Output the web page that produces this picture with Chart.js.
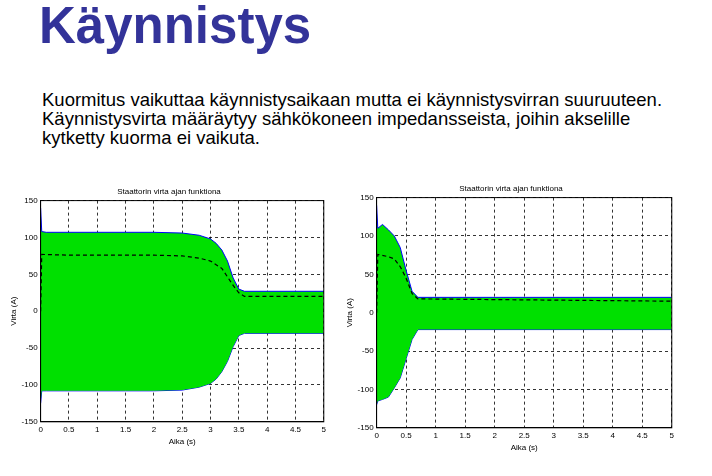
<!DOCTYPE html>
<html>
<head>
<meta charset="utf-8">
<script src="https://cdn.jsdelivr.net/npm/chart.js@4"></script>
<style>
  body { margin: 0; background: #fff; font-family: "Liberation Sans", Arial, sans-serif; }
  #page { position: relative; width: 712px; height: 476px; overflow: hidden; }
  h1 { position: absolute; left: 39px; top: -4px; margin: 0; font-size: 51px; color: #333399; font-weight: bold; }
  p { position: absolute; left: 42px; top: 90px; margin: 0; font-size: 18.5px; line-height: 19px; color: #000; width: 680px; }
  .box { position: absolute; }
</style>
</head>
<body>
<div id="page">
  <h1>Käynnistys</h1>
  <p>Kuormitus vaikuttaa käynnistysaikaan mutta ei käynnistysvirran suuruuteen.<br>
  Käynnistysvirta määräytyy sähkökoneen impedansseista, joihin akselille<br>
  kytketty kuorma ei vaikuta.</p>
  <div class="box" style="left:9px;top:187px;width:320px;height:260px"><canvas id="c1"></canvas></div>
  <div class="box" style="left:345px;top:184px;width:332px;height:269px"><canvas id="c2"></canvas></div>
</div>
<script>
// vasen kuva: kuormitettu käynnistys
const t1 = [0, 0.02, 0.1, 0.5, 1, 1.5, 2, 2.5, 2.8, 3.0, 3.1, 3.2, 3.3, 3.4, 3.5, 3.6, 4, 5];
const upper1 = [140, 108, 107, 107, 107, 107, 107, 106, 103, 98, 92, 83, 68, 45, 30, 27, 27, 27];
const lower1 = [-125, -108, -108, -108, -108, -108, -108, -107, -103, -98, -92, -82, -68, -48, -33, -30, -30, -30];
const tRms1 = [0, 0.02, 0.5, 1, 1.5, 2, 2.5, 2.8, 3.0, 3.2, 3.4, 3.5, 3.6, 5];
const rms1 = [0, 77, 76, 76, 76, 76, 75, 72, 68, 58, 35, 25, 20, 20];

// oikea kuva: kuormittamaton käynnistys
const t2 = [0, 0.02, 0.1, 0.2, 0.3, 0.4, 0.5, 0.6, 0.7, 5];
const upper2 = [140, 110, 115, 108, 100, 85, 55, 28, 20, 20];
const lower2 = [-120, -115, -113, -110, -98, -85, -60, -35, -22, -22];
const tRms2 = [0, 0.02, 0.2, 0.3, 0.4, 0.5, 0.6, 0.7, 5];
const rms2 = [0, 76, 73, 70, 60, 45, 25, 18, 15];

const xTicks = ['0', '0.5', '1', '1.5', '2', '2.5', '3', '3.5', '4', '4.5', '5'];

const pts = (xs, ys) => xs.map((x, i) => ({x: x, y: ys[i]}));

const makeChart = (id, t, up, lo, tr, r) => {
  const ctx = document.getElementById(id).getContext('2d');
  const axisFont = {family: 'Liberation Sans', size: 8, weight: 'normal'};
  const grid = {color: '#000', lineWidth: 0.8, drawTicks: false};
  new Chart(ctx, {
    type: 'line',
    data: {
      datasets: [
        {data: pts(tr, r), borderColor: '#000', borderWidth: 1.2, borderDash: [4, 3], pointRadius: 0, fill: false, order: 0},
        {data: pts(t, up), borderColor: '#0000ff', borderWidth: 1, pointRadius: 0, fill: '+1', backgroundColor: '#00e000', order: 1},
        {data: pts(t, lo), borderColor: '#0000ff', borderWidth: 1, pointRadius: 0, fill: false, order: 2}
      ]
    },
    options: {
      responsive: true,
      maintainAspectRatio: false,
      animation: false,
      plugins: {
        legend: {display: false},
        tooltip: {enabled: false},
        title: {display: true, text: 'Staattorin virta ajan funktiona', font: axisFont, color: '#000', padding: {top: 0, bottom: 4}}
      },
      scales: {
        x: {
          type: 'linear', min: 0, max: 5,
          ticks: {stepSize: 0.5, font: axisFont, color: '#000', padding: 3, callback: (v, i) => xTicks[i]},
          grid: Object.assign({}, grid),
          border: {display: true, color: '#000', width: 1, dash: [3, 3]},
          title: {display: true, text: 'Aika (s)', font: axisFont, color: '#000', padding: 0}
        },
        y: {
          min: -150, max: 150,
          ticks: {stepSize: 50, font: axisFont, color: '#000', padding: 3},
          grid: Object.assign({}, grid),
          border: {display: true, color: '#000', width: 1, dash: [3, 3]},
          title: {display: true, text: 'Virta (A)', font: axisFont, color: '#000', padding: 0}
        }
      }
    },
    plugins: [{
      id: 'frame',
      afterDraw: (chart) => {
        const a = chart.chartArea;
        const c = chart.ctx;
        c.save();
        c.strokeStyle = '#000';
        c.lineWidth = 1;
        c.strokeRect(a.left, a.top, a.right - a.left, a.bottom - a.top);
        c.restore();
      }
    }]
  });
};

makeChart('c1', t1, upper1, lower1, tRms1, rms1);
makeChart('c2', t2, upper2, lower2, tRms2, rms2);
</script>
</body>
</html>
